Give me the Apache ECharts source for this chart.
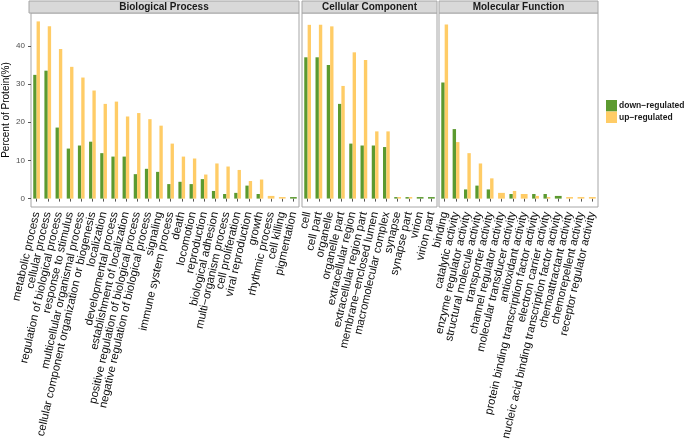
<!DOCTYPE html>
<html><head><meta charset="utf-8">
<script src="https://cdn.jsdelivr.net/npm/echarts@6/dist/echarts.min.js"></script>
<style>html,body{margin:0;padding:0;background:#fff}#c{width:685px;height:443px}</style>
</head><body><div id="c"></div>
<script>
// ---- data ----
const panelTitles = ['Biological Process', 'Cellular Component', 'Molecular Function'];
const seriesNames = ['down\u2212regulated', 'up\u2212regulated'];
const yTicks = [0, 10, 20, 30, 40];

const bpCats = ['metabolic process','cellular process','regulation of biological process','response to stimulus','multicellular organismal process','cellular component organization or biogenesis','localization','developmental process','establishment of localization','positive regulation of biological process','negative regulation of biological process','signaling','immune system process','death','locomotion','reproduction','biological adhesion','multi\u2212organism process','cell proliferation','viral reproduction','growth','rhythmic process','cell killing','pigmentation'];
const bpDown = [32.4,33.5,18.6,13.1,13.9,14.9,11.9,11.0,11.0,6.4,7.8,7.0,3.8,4.4,3.8,5.1,2.0,1.2,1.5,3.4,1.2,null,null,0.4];
const bpUp   = [46.4,45.1,39.2,34.5,31.7,28.3,24.8,25.4,21.5,22.4,20.8,19.1,14.4,11.0,10.5,6.3,9.2,8.4,7.5,4.6,5.0,0.7,0.4,null];

const ccCats = ['cell','cell part','organelle','organelle part','extracellular region','extracellular region part','membrane\u2212enclosed lumen','macromolecular complex','synapse','synapse part','virion','virion part'];
const ccDown = [37.0,37.0,35.0,24.8,14.4,13.9,13.9,13.5,0.4,0.4,0.4,0.4];
const ccUp   = [45.5,45.5,45.1,29.5,38.3,36.3,17.6,17.6,0.4,0.4,null,null];

const mfCats = ['binding','catalytic activity','enzyme regulator activity','structural molecule activity','transporter activity','channel regulator activity','molecular transducer activity','antioxidant activity','protein binding transcription factor activity','electron carrier activity','nucleic acid binding transcription factor activity','chemoattractant activity','chemorepellent activity','receptor regulator activity'];
const mfDown = [30.4,18.2,2.4,3.4,2.4,null,1.2,null,1.2,1.2,0.7,null,null,null];
const mfUp   = [45.6,14.8,11.9,9.2,5.3,1.5,2.0,1.2,0.7,0.4,null,0.4,0.4,0.4];

const colors = ['#5c9a30', '#ffcc66'];

// ---- layout ----
const panels = [
  {left: 29, width: 270, cats: bpCats, down: bpDown, up: bpUp},
  {left: 302, width: 135, cats: ccCats, down: ccDown, up: ccUp},
  {left: 439, width: 159, cats: mfCats, down: mfDown, up: mfUp}
];
const TOP = 13, HEIGHT = 194, STRIP_TOP = 1;
const YMIN = -2.2, YMAX = 48.6;
const FONT = '"Liberation Sans", Arial, sans-serif';

const grids = [], xAxes = [], yAxes = [], series = [], graphics = [];

function makeRender(mine, other, side) {
  return function (params, api) {
    const i = api.value(0), v = api.value(1);
    const band = api.size([1, 0])[0];
    const groupW = band * 0.6;
    const hasOther = other[i] !== null && other[i] !== undefined;
    const c = api.coord([i, v]);
    const base = api.coord([i, 0]);
    let x, w;
    if (hasOther) { w = groupW / 2; x = c[0] - groupW / 2 + side * w; }
    else { w = groupW; x = c[0] - groupW / 2; }
    return {
      type: 'rect',
      shape: {x: x, y: c[1], width: w, height: base[1] - c[1]},
      style: {fill: api.visual('color')}
    };
  };
}

panels.forEach((p, k) => {
  grids.push({left: p.left, top: TOP, width: p.width, height: HEIGHT, show: true,
    borderColor: '#a6a6a6', borderWidth: 1, backgroundColor: '#fff', containLabel: false});
  xAxes.push({type: 'category', gridIndex: k, data: p.cats, boundaryGap: true,
    axisLine: {show: false},
    axisTick: {show: true, alignWithLabel: true, length: 3, lineStyle: {color: '#555'}},
    axisLabel: {interval: 0, rotate: 77, fontSize: 11.3, color: '#0d0d0d', margin: 5,
      fontFamily: FONT},
    splitLine: {show: false}});
  const ya = {type: 'value', gridIndex: k, min: YMIN, max: YMAX,
    splitLine: {show: false}, axisLine: {show: false}};
  if (k === 0) {
    ya.axisTick = {show: true, length: 3, lineStyle: {color: '#555'}, customValues: yTicks};
    ya.axisLabel = {show: true, fontSize: 8, color: '#4d4d4d', margin: 6,
      fontFamily: FONT, customValues: yTicks};
    ya.name = 'Percent of Protein(%)';
    ya.nameLocation = 'middle';
    ya.nameGap = 20;
    ya.nameTextStyle = {fontSize: 10, color: '#000', fontFamily: FONT};
  } else {
    ya.axisTick = {show: false};
    ya.axisLabel = {show: false};
  }
  yAxes.push(ya);

  const lists = [p.down, p.up];
  lists.forEach((arr, s) => {
    const other = lists[1 - s];
    const data = [];
    arr.forEach((v, i) => { if (v !== null) data.push([i, v]); });
    series.push({
      type: 'custom', name: seriesNames[s], xAxisIndex: k, yAxisIndex: k,
      itemStyle: {color: colors[s]},
      encode: {x: 0, y: 1},
      renderItem: makeRender(arr, other, s),
      data: data, silent: true
    });
  });

  graphics.push({type: 'rect', shape: {x: p.left, y: STRIP_TOP, width: p.width, height: TOP - STRIP_TOP},
    style: {fill: '#d9d9d9', stroke: '#a6a6a6', lineWidth: 1}});
  graphics.push({type: 'text', x: p.left + p.width / 2, y: (STRIP_TOP + TOP) / 2 + 0.5,
    style: {text: panelTitles[k], fill: '#1a1a1a', font: 'bold 10px ' + FONT,
      textAlign: 'center', textVerticalAlign: 'middle'}});
});

const chart = echarts.init(document.getElementById('c'), null, {renderer: 'canvas'});
chart.setOption({
  animation: false,
  grid: grids, xAxis: xAxes, yAxis: yAxes, series: series,
  color: colors,
  legend: {data: seriesNames.map((n, i) => ({name: n, icon: 'rect', itemStyle: {color: colors[i]}})),
    orient: 'vertical', left: 606, top: 100, padding: 0, itemWidth: 11, itemHeight: 11.5, itemGap: 0,
    selectedMode: false,
    textStyle: {fontSize: 8.5, fontWeight: 'bold', color: '#1a1a1a', padding: [0, 0, 0, -3],
      fontFamily: FONT}},
  graphic: graphics
});
</script></body></html>
